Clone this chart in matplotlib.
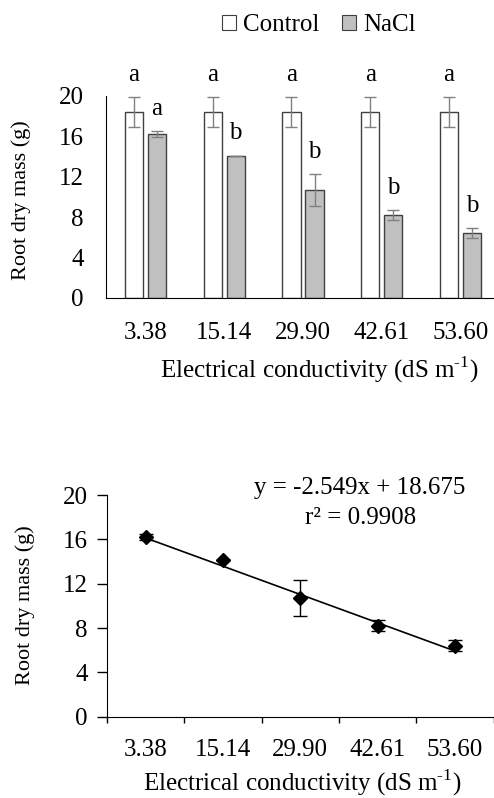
import numpy as np
import matplotlib
matplotlib.use('Agg')
import matplotlib.pyplot as plt
from matplotlib.patches import Patch

plt.rcParams['font.family'] = ['Liberation Serif', 'DejaVu Serif']
plt.rcParams['mathtext.fontset'] = 'custom'
plt.rcParams['mathtext.rm'] = 'Liberation Serif'
plt.rcParams['font.size'] = 18

# данные
ec_labels = ['3.38', '15.14', '29.90', '42.61', '53.60']
control = [18.4, 18.4, 18.4, 18.4, 18.4]
control_err = [1.5, 1.5, 1.5, 1.5, 1.5]
nacl = [16.2, 14.1, 10.7, 8.2, 6.4]
nacl_err = [0.3, 0.0, 1.6, 0.5, 0.5]
letters_control = ['a', 'a', 'a', 'a', 'a']
letters_nacl = ['a', 'b', 'b', 'b', 'b']
slope = -2.549
intercept = 18.675
r2 = 0.9908

x = np.arange(1, len(ec_labels) + 1)
xlabel = 'Electrical conductivity (dS m$^{\\mathrm{‐1}}$)'
ylab_size = 16

fig = plt.figure(figsize=(4.94, 7.98), dpi=100)

# верхний график - столбцы
ax1 = fig.add_axes([106 / 494, 1 - 298 / 798, 394 / 494, 202 / 798])
w = 0.23
off = 0.146
ax1.bar(x - off, control, w, color='white', edgecolor='#404040', linewidth=1.0)
ax1.bar(x + off, nacl, w, color='#c0c0c0', edgecolor='#404040', linewidth=1.0)
ax1.errorbar(x - off, control, yerr=control_err, fmt='none', ecolor='#808080',
             elinewidth=1.0, capsize=4, capthick=1.0)
ax1.errorbar(x + off, nacl, yerr=nacl_err, fmt='none', ecolor='#808080',
             elinewidth=1.0, capsize=4, capthick=1.0)
for i in range(len(x)):
    ax1.annotate(letters_control[i], (x[i] - off, control[i] + control_err[i]),
                 xytext=(0, 16), textcoords='offset points', ha='center', va='center',
                 annotation_clip=False)
    ax1.annotate(letters_nacl[i], (x[i] + off, nacl[i] + nacl_err[i]),
                 xytext=(0, 16), textcoords='offset points', ha='center', va='center',
                 annotation_clip=False)
ax1.set_xlim(0.5, 5.5)
ax1.set_ylim(0, 20)
ax1.set_yticks([0, 4, 8, 12, 16, 20])
ax1.set_xticks(x)
ax1.set_xticklabels(ec_labels)
ax1.tick_params(axis='both', length=0)
ax1.tick_params(axis='x', pad=17)
ax1.tick_params(axis='y', pad=16)
ax1.spines['top'].set_visible(False)
ax1.spines['right'].set_visible(False)
ax1.set_ylabel('Root dry mass (g)', fontsize=ylab_size)
ax1.yaxis.set_label_coords(31 / 494, 1 - 200 / 798, transform=fig.transFigure)
fig.text(319 / 494, 1 - 370 / 798, xlabel, ha='center', va='center')

handles = [Patch(facecolor='white', edgecolor='#404040', linewidth=0.8),
           Patch(facecolor='#c0c0c0', edgecolor='#404040', linewidth=0.8)]
fig.legend(handles, ['Control', 'NaCl'], ncol=2, frameon=False,
           loc='center', bbox_to_anchor=(319 / 494, 1 - 25 / 798),
           handlelength=0.55, handleheight=0.55, handletextpad=0.3, columnspacing=0.9)

# нижний график - регрессия
ax2 = fig.add_axes([107 / 494, 1 - 716.7 / 798, 386.5 / 494, 221.7 / 798])
ax2.errorbar(x, nacl, yerr=nacl_err, fmt='D', color='black', markersize=7,
             elinewidth=1.0, capsize=5, capthick=1.0)
ax2.plot(x, slope * x + intercept, color='black', linewidth=1.2)
ax2.set_xlim(0.5, 5.5)
ax2.set_ylim(0, 20)
ax2.set_yticks([0, 4, 8, 12, 16, 20])
ax2.set_xticks(np.arange(0.5, 6, 1))
ax2.set_xticklabels([])
ax2.set_xticks(x, minor=True)
ax2.set_xticklabels(ec_labels, minor=True)
ax2.tick_params(axis='x', which='major', length=4.5, width=1, direction='out')
ax2.tick_params(axis='x', which='minor', length=0, pad=16)
ax2.tick_params(axis='y', length=7, width=1, direction='out', pad=7)
ax2.spines['top'].set_visible(False)
ax2.spines['right'].set_visible(False)
ax2.set_ylabel('Root dry mass (g)', fontsize=ylab_size)
ax2.yaxis.set_label_coords(35 / 494, 1 - 605 / 798, transform=fig.transFigure)
fig.text(302 / 494, 1 - 783 / 798, xlabel, ha='center', va='center')
fig.text(360 / 494, 1 - 488 / 798, 'y = %.3fx + %.3f' % (slope, intercept),
         ha='center', va='center')
fig.text(361 / 494, 1 - 518 / 798, 'r² = %.4f' % r2, ha='center', va='center')

fig.savefig('out.png', dpi=100)
